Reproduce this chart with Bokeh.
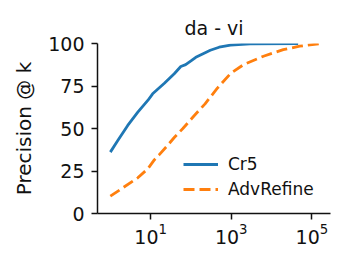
from bokeh.plotting import figure
from bokeh.models import FixedTicker, Range1d, Legend, LegendItem
from bokeh.embed import file_html
from bokeh.resources import INLINE

# Precision @ k curves for the da - vi language pair
cr5_k = [1, 1.53, 2.7, 4.8, 8.5, 11.2, 21.9, 38.5, 56, 74, 100, 132, 200, 302, 500, 955, 2950, 45700]
cr5_p = [36.1, 42.9, 51.8, 59.6, 66.5, 70.4, 76.6, 82.2, 86.5, 87.6, 89.8, 91.9, 94.0, 96.0, 97.8, 99.0, 99.8, 100]

adv_k = [1, 2.04, 4.8, 8.5, 12.3, 16.2, 25.1, 38.5, 63, 120, 224, 447, 955, 2000, 6300, 19500, 50000, 158000]
adv_p = [10.2, 15.1, 21.0, 26.3, 31.5, 34.5, 39.5, 44.7, 50.0, 57.5, 64.5, 73.6, 82.3, 87.5, 92.5, 96.4, 98.4, 99.9]

x_ticks = [10, 1000, 100000]
y_ticks = [0, 25, 50, 75, 100]

FONT = "DejaVu Sans"

p = figure(width=353, height=266, x_axis_type="log",
           x_range=Range1d(0.48, 2.9e5), y_range=Range1d(0, 100),
           output_backend="svg", toolbar_location=None,
           min_border_left=97, min_border_right=23,
           min_border_top=43, min_border_bottom=53,
           title="da - vi")

p.title.text_font = FONT
p.title.text_font_size = "19px"
p.title.text_font_style = "normal"
p.title.align = "center"
p.title.text_color = "#111111"

p.outline_line_color = None
p.grid.visible = False
p.background_fill_color = "white"
p.border_fill_color = "white"

for ax in (p.xaxis, p.yaxis):
    ax.axis_line_width = 1.5
    ax.axis_line_color = "#111111"
    ax.major_tick_line_color = "#111111"
    ax.major_tick_line_width = 1.5
    ax.major_tick_out = 6
    ax.major_tick_in = 0
    ax.minor_tick_line_color = None
    ax.major_label_text_font = FONT
    ax.major_label_text_font_size = "19px"
    ax.major_label_text_color = "#111111"

p.yaxis.major_label_standoff = 7
p.xaxis.major_label_standoff = 3

p.xaxis.ticker = FixedTicker(ticks=x_ticks)
p.yaxis.ticker = FixedTicker(ticks=y_ticks)

p.yaxis.axis_label = "Precision @ k"
p.yaxis.axis_label_text_font = FONT
p.yaxis.axis_label_text_font_size = "20px"
p.yaxis.axis_label_text_font_style = "normal"
p.yaxis.axis_label_text_color = "#111111"
p.yaxis.axis_label_standoff = 9

r1 = p.line(cr5_k, cr5_p, line_color="#1f77b4", line_width=2.8)
r2 = p.line(adv_k, adv_p, line_color="#ff7f0e", line_width=2.8, line_dash="11 5")

legend = Legend(items=[LegendItem(label="Cr5", renderers=[r1]),
                       LegendItem(label="AdvRefine", renderers=[r2])],
                location=(86, 14))
legend.border_line_color = None
legend.background_fill_alpha = 0
legend.label_text_font = FONT
legend.label_text_font_size = "17px"
legend.label_text_color = "#111111"
legend.glyph_width = 35
legend.glyph_height = 20
legend.spacing = 5
legend.padding = 0
legend.margin = 0
legend.label_standoff = 10
p.add_layout(legend)

open("out.html", "w").write(file_html(p, INLINE))
